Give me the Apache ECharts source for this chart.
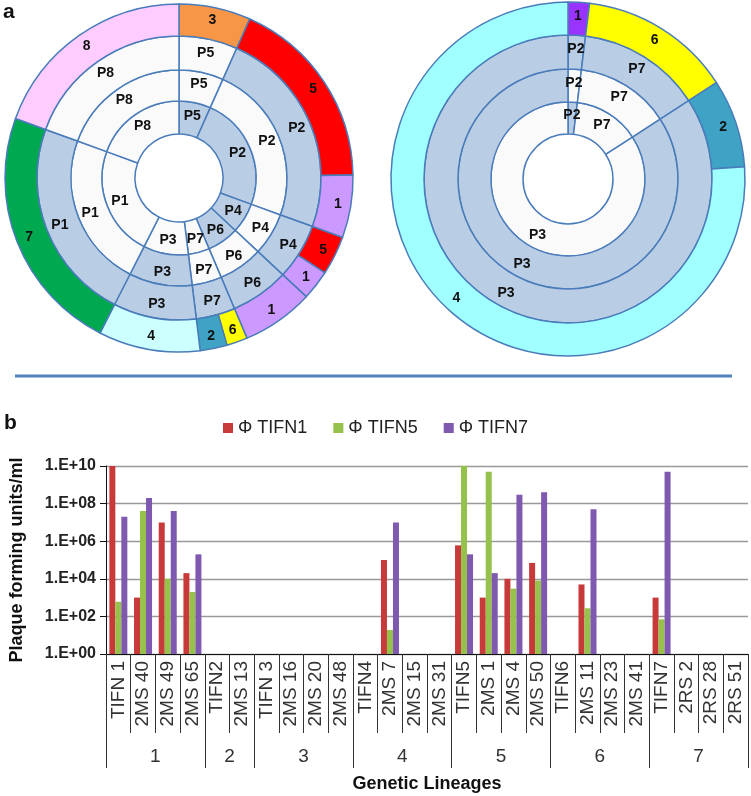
<!DOCTYPE html>
<html>
<head>
<meta charset="utf-8">
<script src="https://cdn.jsdelivr.net/npm/echarts@6/dist/echarts.min.js"></script>
<style>
html,body{margin:0;padding:0;background:#fff;}
#chart{width:751px;height:796px;}
</style>
</head>
<body>
<div id="chart"></div>
<script>
// ---------- Panel a : left ring chart ----------
const leftSegLabels = ['P5','P2','P4','P6','P7','P3','P1','P8'];
const leftSegSpans  = [24, 86, 23, 24, 16, 34, 83, 70];           // degrees
const leftRing1Fill = ['B','B','B','B','W','W','W','W'];
const leftRing2Fill = ['W','W','W','W','W','B','W','W'];
const leftRing3Fill = ['W','B','B','B','B','B','B','W'];
const leftOuterLabels = ['3','5','1','5','1','1','6','2','4','7','8'];
const leftOuterSpans  = [24, 65, 21, 13, 10, 24, 7, 9, 34, 83, 70];  // degrees
const leftOuterColors = ['#f79646','#ff0000','#cc99ff','#ff0000','#cc99ff','#cc99ff','#ffff00','#3ea3c4','#ccffff','#00a84f','#ffccff'];

// ---------- Panel a : right ring chart ----------
const rightSegLabels = ['P2','P7','P3'];
const rightSegSpans  = [7, 50, 303];
const rightRing1Fill = ['B','W','W'];
const rightRing2Fill = ['W','W','B'];
const rightRing3Fill = ['B','B','B'];
const rightOuterLabels = ['1','6','2','4'];
const rightOuterSpans  = [7, 50, 29, 274];
const rightOuterColors = ['#9933ff','#ffff00','#3ea3c4','#a0ffff'];

// ---------- Panel b : bar chart ----------
const categories = ['TIFN 1','2MS 40','2MS 49','2MS 65','TIFN2','2MS 13','TIFN 3','2MS 16','2MS 20','2MS 48',
  'TIFN4','2MS 7','2MS 15','2MS 31','TIFN5','2MS 1','2MS 4','2MS 50','TIFN6','2MS 11','2MS 23','2MS 41',
  'TIFN7','2RS 2','2RS 28','2RS 51'];
const groupLabels = ['1','2','3','4','5','6','7'];
const groupSizes  = [4, 2, 4, 4, 4, 4, 4];
const seriesNames = ['\u03A6 TIFN1','\u03A6 TIFN5','\u03A6 TIFN7'];
const tifn1 = [1e10, 1e3, 1e7, 2e4, null, null, null, null, null, null, null, 1e5, null, null,
  6e5, 1e3, 1e4, 7e4, null, 5e3, null, null, 1e3, null, null, null];
const tifn5 = [600, 4e7, 1e4, 2e3, null, null, null, null, null, null, null, 19, null, null,
  1e10, 5e9, 3e3, 8e3, null, 270, null, null, 70, null, null, null];
const tifn7 = [2e7, 2e8, 4e7, 2e5, null, null, null, null, null, null, null, 1e7, null, null,
  2e5, 2e4, 3e8, 4e8, null, 5e7, null, null, 5e9, null, null, null];
const yTickValues = [1, 1e2, 1e4, 1e6, 1e8, 1e10];

const BLUE = '#b9cde5', WHITE = '#fafafa', EDGE = '#4a7cba';
const FONT = '"Liberation Sans", Arial, sans-serif';

function ringData(labels, spans, fills) {
  return labels.map((l, i) => ({ name: l, value: spans[i], itemStyle: { color: fills[i] === 'B' ? BLUE : WHITE } }));
}
function outerData(labels, spans, colors) {
  return labels.map((l, i) => ({ name: l, value: spans[i], itemStyle: { color: colors[i] } }));
}
function pie(center, radius, data) {
  return {
    type: 'pie', center: center, radius: radius, startAngle: 90, clockwise: true,
    silent: true, avoidLabelOverlap: false, minAngle: 0, minShowLabelAngle: 0,
    label: { show: true, position: 'inside', formatter: '{b}', fontSize: 14, fontWeight: 'bold', color: '#111', fontFamily: FONT },
    labelLine: { show: false },
    itemStyle: { borderColor: EDGE, borderWidth: 1.5 },
    emphasis: { disabled: true },
    data: data
  };
}

const LC = [179, 178], RC = [568, 179];
const groupTickPos = [0];
groupSizes.forEach(s => groupTickPos.push(groupTickPos[groupTickPos.length - 1] + s));
const groupMid = groupSizes.map((s, i) => groupTickPos[i] + s / 2);

function expLabel(v) {
  const e = Math.round(Math.log10(v));
  return '1.E+' + String(e).padStart(2, '0');
}

const chart = echarts.init(document.getElementById('chart'), null, { renderer: 'canvas' });
const option = {
  animation: false,
  textStyle: { fontFamily: FONT },
  graphic: [
    { type: 'text', left: 3, top: 2, style: { text: 'a', font: 'bold 21px ' + FONT, fill: '#111' } },
    { type: 'text', left: 4, top: 413, style: { text: 'b', font: 'bold 21px ' + FONT, fill: '#111' } },
    { type: 'line', shape: { x1: 15, y1: 376, x2: 732, y2: 376 }, style: { stroke: '#4f81bd', lineWidth: 3 } }
  ],
  legend: {
    data: seriesNames, left: 218, top: 414, itemWidth: 10, itemHeight: 10, itemGap: 26,
    icon: 'rect', textStyle: { fontSize: 18, color: '#222', fontFamily: FONT }
  },
  grid: { left: 96, right: 3, top: 466, bottom: 142, containLabel: false },
  xAxis: [
    {
      type: 'category', data: categories,
      axisLine: { lineStyle: { color: '#111', width: 1 } },
      axisTick: { show: true, alignWithLabel: false, interval: 0, length: 79, lineStyle: { color: '#333' } },
      axisLabel: { interval: 0, rotate: 90, margin: 7, fontSize: 19, color: '#333', fontFamily: FONT }
    },
    {
      type: 'value', min: 0, max: 26, position: 'bottom',
      name: 'Genetic Lineages', nameLocation: 'middle', nameGap: 121,
      nameTextStyle: { fontSize: 18, fontWeight: 'bold', color: '#111', fontFamily: FONT },
      axisLine: { show: false },
      splitLine: { show: false },
      axisTick: { show: true, customValues: groupTickPos, length: 114, lineStyle: { color: '#333' } },
      axisLabel: {
        show: true, customValues: groupMid, margin: 93, fontSize: 19, color: '#333', fontFamily: FONT,
        formatter: v => { const i = groupMid.indexOf(v); return i >= 0 ? groupLabels[i] : ''; }
      }
    }
  ],
  yAxis: {
    type: 'log', logBase: 10, min: 1, max: 1e10, interval: 2,
    name: 'Plaque forming units/ml', nameLocation: 'middle', nameGap: 80, nameRotate: 90,
    nameTextStyle: { fontSize: 18, fontWeight: 'bold', color: '#111', fontFamily: FONT },
    axisLine: { show: true, lineStyle: { color: '#111' } },
    axisTick: { show: true, length: 6, customValues: yTickValues, lineStyle: { color: '#111' } },
    axisLabel: {
      fontSize: 16, fontWeight: 'bold', color: '#222', margin: 10, fontFamily: FONT,
      customValues: yTickValues, formatter: expLabel
    },
    splitLine: { show: true, lineStyle: { color: '#999', width: 1.3 } }
  },
  series: [
    pie(LC, [44, 77], ringData(leftSegLabels, leftSegSpans, leftRing1Fill)),
    pie(LC, [77, 108], ringData(leftSegLabels, leftSegSpans, leftRing2Fill)),
    pie(LC, [108, 142], ringData(leftSegLabels, leftSegSpans, leftRing3Fill)),
    pie(LC, [142, 174], outerData(leftOuterLabels, leftOuterSpans, leftOuterColors)),
    pie(RC, [45, 77], ringData(rightSegLabels, rightSegSpans, rightRing1Fill)),
    pie(RC, [77, 110], ringData(rightSegLabels, rightSegSpans, rightRing2Fill)),
    pie(RC, [110, 144], ringData(rightSegLabels, rightSegSpans, rightRing3Fill)),
    pie(RC, [144, 177], outerData(rightOuterLabels, rightOuterSpans, rightOuterColors)),
    { type: 'bar', name: seriesNames[0], data: tifn1, barWidth: 6, barGap: '0%', itemStyle: { color: '#c83a3a' } },
    { type: 'bar', name: seriesNames[1], data: tifn5, barWidth: 6, barGap: '0%', itemStyle: { color: '#96c14a' } },
    { type: 'bar', name: seriesNames[2], data: tifn7, barWidth: 6, barGap: '0%', itemStyle: { color: '#7f58b0' } }
  ]
};
chart.setOption(option);
</script>
</body>
</html>
